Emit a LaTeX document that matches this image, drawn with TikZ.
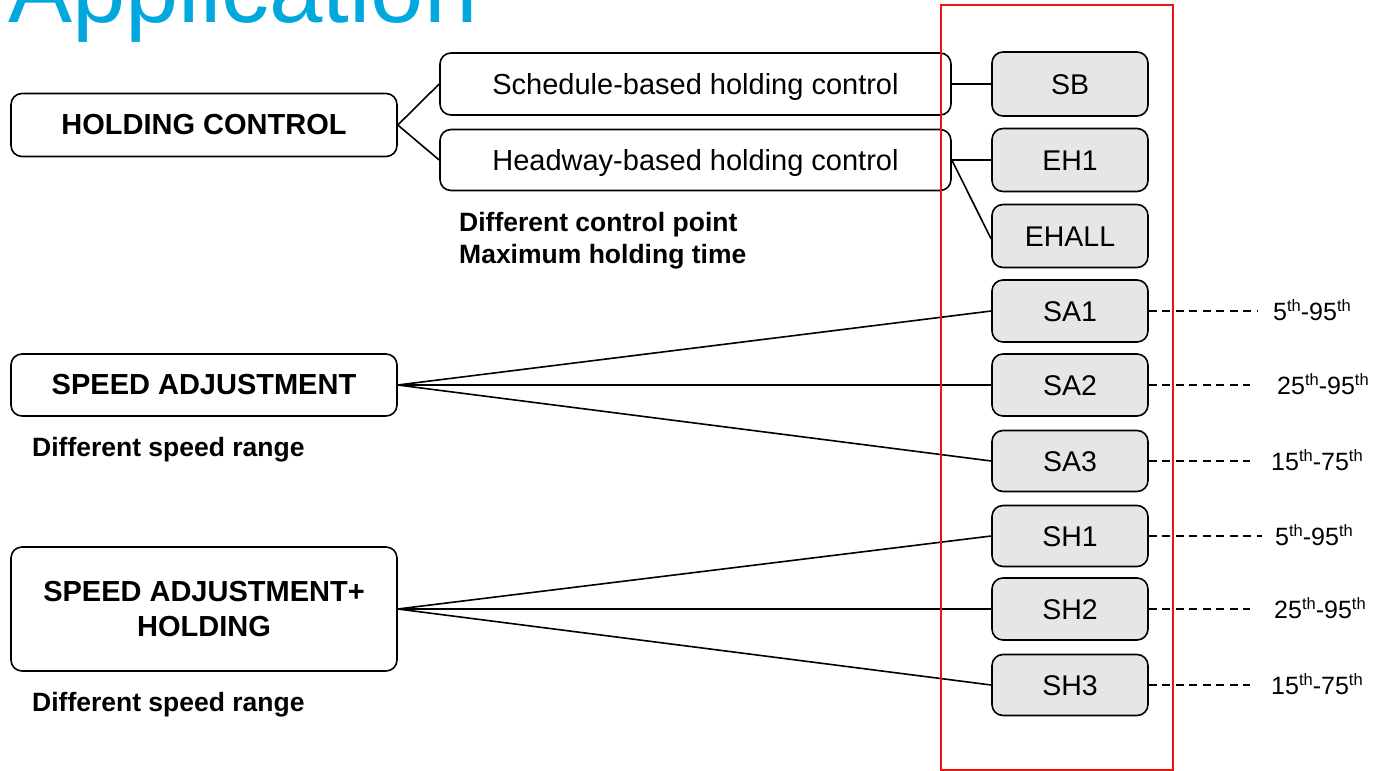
\documentclass[tikz,border=0pt]{standalone}
\usepackage{fontspec}
\setmainfont{Liberation Sans}
\definecolor{titlecyan}{RGB}{0,168,222}
\definecolor{boxgray}{RGB}{230,230,230}
\definecolor{framered}{RGB}{235,20,20}
\newcommand\ordth{\raisebox{0.62ex}{\fontsize{16.5}{16.5}\selectfont th}}
\begin{document}
\begin{tikzpicture}[x=1pt,y=-1pt,
  catbox/.style={draw=black,line width=1.6pt,rounded corners=11pt,fill=white,inner sep=0pt,
    minimum width=386pt,align=center,font=\fontsize{29}{35}\selectfont\bfseries},
  subbox/.style={draw=black,line width=1.6pt,rounded corners=11pt,fill=white,inner sep=0pt,
    minimum width=511pt,text height=21pt,text depth=0pt,font=\fontsize{29}{35}\selectfont},
  codebox/.style={draw=black,line width=1.6pt,rounded corners=11pt,fill=boxgray,inner sep=0pt,
    minimum width=156pt,text height=20.5pt,text depth=0pt,font=\fontsize{28.5}{34}\selectfont},
  note/.style={anchor=base west,inner sep=0pt,font=\fontsize{26.5}{32}\selectfont\bfseries},
  conn/.style={line width=1.6pt,black},
  dconn/.style={line width=1.6pt,black,dash pattern=on 8pt off 5.5pt},
  rng/.style={anchor=base west,inner sep=0pt,font=\fontsize{25}{30}\selectfont}]
\useasboundingbox (0,0) rectangle (1385,771);
% title (cut off at top, as in the reference)
\node[anchor=base west,inner sep=0pt,text=titlecyan,font=\fontsize{96}{100}\selectfont] (title) at (8,22) {Application};
% category boxes
\node[catbox,minimum height=63pt] (hc) at (204,125) {HOLDING CONTROL};
\node[catbox,minimum height=62pt] (sa) at (204,385) {SPEED ADJUSTMENT};
\node[catbox,minimum height=124pt] (sah) at (204,609) {SPEED ADJUSTMENT+\\HOLDING};
% sub boxes
\node[subbox,minimum height=62pt] (sched) at (695.5,84) {Schedule-based holding control};
\node[subbox,minimum height=61pt] (head) at (695.5,160) {Headway-based holding control};
% code boxes
\node[codebox,minimum height=64pt] (sb) at (1070,84) {SB};
\node[codebox,minimum height=63pt] (eh1) at (1070,160) {EH1};
\node[codebox,minimum height=63pt] (ehall) at (1070,236) {EHALL};
\node[codebox,minimum height=62pt] (sa1) at (1070,311) {SA1};
\node[codebox,minimum height=62pt] (sa2) at (1070,385) {SA2};
\node[codebox,minimum height=61pt] (sa3) at (1070,461) {SA3};
\node[codebox,minimum height=61pt] (sh1) at (1070,536) {SH1};
\node[codebox,minimum height=62pt] (sh2) at (1070,609) {SH2};
\node[codebox,minimum height=61pt] (sh3) at (1070,685) {SH3};
% notes
\node[note] (n1) at (459,231) {Different control point};
\node[note] (n2) at (459,263) {Maximum holding time};
\node[note] (n3) at (32,456) {Different speed range};
\node[note] (n4) at (32,711) {Different speed range};
% connectors
\draw[conn] (hc.east) -- (sched.west);
\draw[conn] (hc.east) -- (head.west);
\draw[conn] (sched.east) -- (sb.west);
\draw[conn] (head.east) -- (eh1.west);
\draw[conn] (head.east) -- ([yshift=-3pt]ehall.west);
\draw[conn] (sa.east) -- (sa1.west);
\draw[conn] (sa.east) -- (sa2.west);
\draw[conn] (sa.east) -- (sa3.west);
\draw[conn] (sah.east) -- (sh1.west);
\draw[conn] (sah.east) -- (sh2.west);
\draw[conn] (sah.east) -- (sh3.west);
% dashed range connectors
\coordinate (d1) at (1258,311);
\coordinate (d2) at (1250,385);
\coordinate (d3) at (1250,461);
\coordinate (d4) at (1262,536);
\coordinate (d5) at (1250,609);
\coordinate (d6) at (1250,685);
\draw[dconn] (sa1.east) -- (d1);
\draw[dconn] (sa2.east) -- (d2);
\draw[dconn] (sa3.east) -- (d3);
\draw[dconn] (sh1.east) -- (d4);
\draw[dconn] (sh2.east) -- (d5);
\draw[dconn] (sh3.east) -- (d6);
\node[rng] (r1) at (1273,320) {5\ordth-95\ordth};
\node[rng] (r2) at (1277,394) {25\ordth-95\ordth};
\node[rng] (r3) at (1271,470) {15\ordth-75\ordth};
\node[rng] (r4) at (1275,545) {5\ordth-95\ordth};
\node[rng] (r5) at (1274,618) {25\ordth-95\ordth};
\node[rng] (r6) at (1271,694) {15\ordth-75\ordth};
% red frame
\draw[framered,line width=1.8pt] (941,5) rectangle (1173,770);
\end{tikzpicture}
\end{document}
